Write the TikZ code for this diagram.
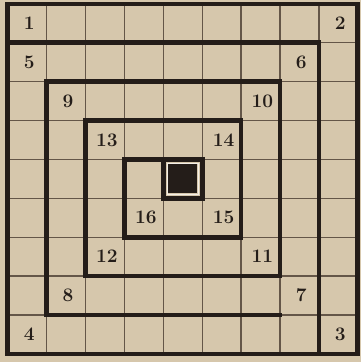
\documentclass[tikz,border=0pt]{standalone}
\usepackage{tikz}

\definecolor{paper}{RGB}{214,199,172}
\definecolor{ink}{RGB}{36,29,25}
\definecolor{rule}{RGB}{100,86,72}

\begin{document}
\begin{tikzpicture}[x=1cm, y=1cm,
    wall/.style={ink, line width=3.4pt, line cap=rect, line join=miter},
    num/.style={font=\fontsize{14}{14}\selectfont\bfseries, text=ink, inner sep=0pt}]
    % Board: 9x9 cells, row r runs downward (y = -r)

    % Paper
    \fill[paper] (-0.2,0.1) rectangle (9.08,-9.21);
    \useasboundingbox (-0.2,0.1) rectangle (9.08,-9.21);

    % Thin grid lines
    \foreach \i in {1,...,8} {
        \draw[rule, line width=1pt] (\i, 0) -- (\i, -9);
        \draw[rule, line width=1pt] (0, -\i) -- (9, -\i);
    }

    % Centre cell
    \fill[ink] (4.13,-4.13) rectangle (4.87,-4.87);
    \draw[white!70!paper, line width=0.7pt] (4.1,-4.1) rectangle (4.9,-4.9);

    % Outer frame
    \draw[wall] (0,0) rectangle (9,-9);

    % First turn of the spiral
    \draw[wall] (0,-1) -- (8,-1) -- (8,-9);

    % Inner spiral down to the centre cell
    \draw[wall] (7,-8) -- (1,-8) -- (1,-2) -- (7,-2) -- (7,-7)
        -- (2,-7) -- (2,-3) -- (6,-3) -- (6,-6) -- (3,-6) -- (3,-4)
        -- (5,-4) -- (5,-5) -- (4,-5) -- (4,-4);

    % Numbers (column/row/label)
    \foreach \c/\r/\t in {0/0/1, 8/0/2, 8/8/3, 0/8/4,
                          0/1/5, 7/1/6, 7/7/7, 1/7/8,
                          1/2/9, 6/2/10, 6/6/11, 2/6/12,
                          2/3/13, 5/3/14, 5/5/15, 3/5/16} {
        \node[num] (n\t) at (\c+0.55, -\r-0.5) {\t};
    }
\end{tikzpicture}
\end{document}
